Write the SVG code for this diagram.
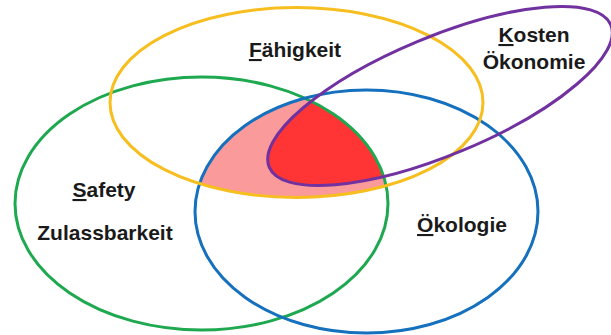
<svg xmlns="http://www.w3.org/2000/svg" width="611" height="335" viewBox="0 0 611 335">
  <style>
    .ring { fill: none; stroke-width: 3; }
    .lbl { font-family: "Liberation Sans", Arial, sans-serif; font-weight: bold; font-size: 21px; fill: #1a1a1a; text-anchor: middle; }
    .ul { text-decoration: underline; }
  </style>
  <defs>
    <clipPath id="clipYellow"><ellipse cx="296.5" cy="102.5" rx="186.5" ry="95"/></clipPath>
    <clipPath id="clipGreen"><ellipse cx="201.5" cy="203.5" rx="186.5" ry="126.5"/></clipPath>
    <clipPath id="clipBlue"><ellipse cx="366.5" cy="211.5" rx="171.5" ry="121.5"/></clipPath>
  </defs>

  <rect width="611" height="335" fill="#ffffff"/>

  <!-- shared areas: three-way overlap (pink) and four-way overlap (red) -->
  <g id="overlaps">
    <g clip-path="url(#clipYellow)">
      <g clip-path="url(#clipGreen)">
        <ellipse cx="366.5" cy="211.5" rx="171.5" ry="121.5" fill="#FA9A9A"/>
        <g clip-path="url(#clipBlue)">
          <ellipse cx="0" cy="0" rx="185" ry="59" transform="translate(440 96) rotate(-22.6)" fill="#FF3535"/>
        </g>
      </g>
    </g>
  </g>

  <g id="safety">
    <ellipse class="ring" cx="201.5" cy="203.5" rx="186.5" ry="126.5" stroke="#1EA84F"/>
    <text class="lbl" x="104" y="197"><tspan class="ul">S</tspan>afety</text>
    <text class="lbl" x="105" y="240">Zulassbarkeit</text>
  </g>

  <g id="oekologie">
    <ellipse class="ring" cx="366.5" cy="211.5" rx="171.5" ry="121.5" stroke="#1570BE"/>
    <text class="lbl" x="462" y="232"><tspan class="ul">Ö</tspan>kologie</text>
  </g>

  <g id="faehigkeit">
    <ellipse class="ring" cx="296.5" cy="102.5" rx="186.5" ry="95" stroke="#F6BE1E" stroke-width="3.5"/>
    <text class="lbl" x="295" y="57"><tspan class="ul">F</tspan>ähigkeit</text>
  </g>

  <g id="kosten">
    <ellipse class="ring" cx="0" cy="0" rx="185" ry="59" transform="translate(440 96) rotate(-22.6)" stroke="#7132A0"/>
    <text class="lbl" x="534" y="42"><tspan class="ul">K</tspan>osten</text>
    <text class="lbl" x="534" y="69">Ökonomie</text>
  </g>

  <g id="connectors"></g>
</svg>
